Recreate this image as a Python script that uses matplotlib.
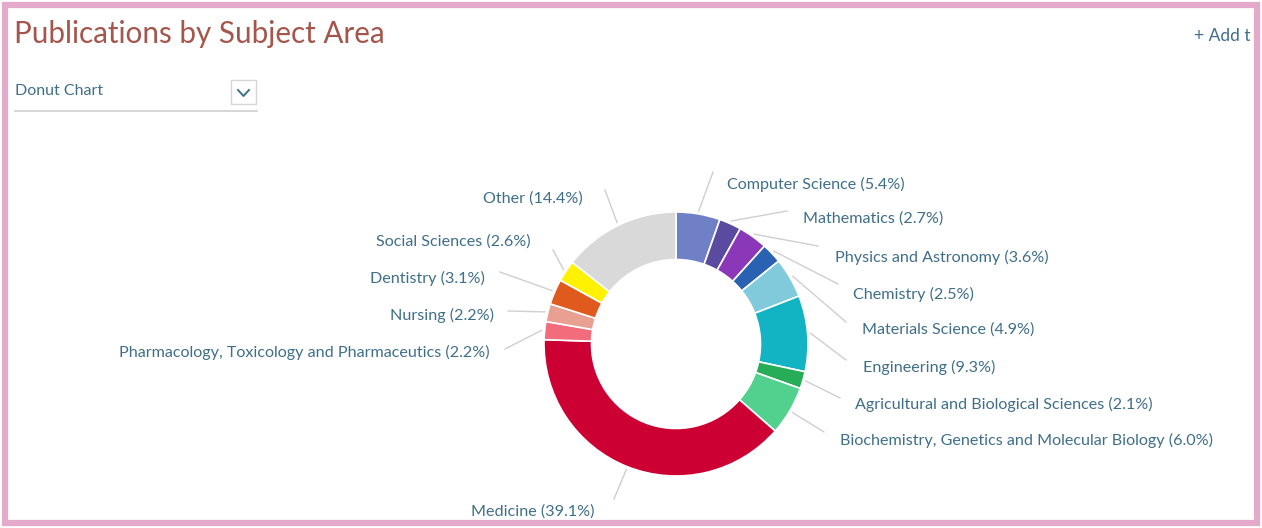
import numpy as np
import matplotlib
matplotlib.use("Agg")
import matplotlib.pyplot as plt
from matplotlib.patches import Rectangle

# ---- data ----
categories = ["Computer Science", "Mathematics", "Physics and Astronomy", "Chemistry",
              "Materials Science", "Engineering", "Agricultural and Biological Sciences",
              "Biochemistry, Genetics and Molecular Biology", "Medicine",
              "Pharmacology, Toxicology and Pharmaceutics", "Nursing", "Dentistry",
              "Social Sciences", "Other"]
shares = [5.4, 2.7, 3.6, 2.5, 4.9, 9.3, 2.1, 6.0, 39.1, 2.2, 2.2, 3.1, 2.6, 14.4]
colors = ["#6f80c6", "#5a4aa0", "#8a38b8", "#2a62b2", "#80cadb", "#12b4c4", "#27ad57",
          "#52d08e", "#cc0033", "#f36c7c", "#e9a092", "#e05a1e", "#fff200", "#d9d9d9"]

# ---- layout (pixel coordinates, y from top) ----
W, H = 1262, 528
cx, cy, R, ring = 676, 344, 132, 0.36
label_pos = [(727, 184, "left"), (803, 219, "left"), (835, 257, "left"), (853, 294, "left"),
             (862, 330, "left"), (863, 367, "left"), (855, 404, "left"), (840, 440, "left"),
             (533, 512, "center"), (490, 352, "right"), (494, 315, "right"), (485, 278, "right"),
             (531, 242, "right"), (583, 199, "right")]
line_end = [(713, 172), (787, 211), (818, 246), (838, 284), (846, 322), (846, 360),
            (840, 398), (824, 432), (614, 499), (505, 349), (508, 311), (500, 272),
            (553, 250), (605, 190)]

LABEL_COLOR = "#3f6f88"
FONT = "Lato"

fig = plt.figure(figsize=(W / 100, H / 100), dpi=100)
fig.patch.set_facecolor("white")
ax = fig.add_axes([0, 0, 1, 1])
ax.set_xlim(0, W)
ax.set_ylim(0, H)
ax.set_aspect("equal")
ax.axis("off")

def Y(y):
    return H - y

# frame
ax.add_patch(Rectangle((5, 5), W - 10, H - 10, fill=False, ec="#e4aacb", lw=4.5, zorder=1))

# title and widgets
ax.text(14, Y(34), "Publications by Subject Area", fontsize=21.3, color="#a4554c",
        family=FONT, va="center", ha="left")
ax.text(1194, Y(36), "+ Add t", fontsize=12.5, color="#3f6f88", family=FONT,
        va="center", ha="left")
ax.text(15, Y(91), "Donut Chart", fontsize=11.5, color="#3f6f88", family=FONT,
        va="center", ha="left")
ax.add_patch(Rectangle((231, Y(104)), 25, 24, fill=False, ec="#d6d6d6", lw=1))
ax.plot([238, 243.5, 249], [Y(90), Y(96), Y(90)], color="#3f6f88", lw=1.4)
ax.plot([15, 257], [Y(111), Y(111)], color="#cfcfcf", lw=1.2)

# donut
wedges, _ = ax.pie(shares, colors=colors, startangle=90, counterclock=False,
                   center=(cx, Y(cy)), radius=R,
                   wedgeprops=dict(width=R * ring, edgecolor="white", linewidth=1.2),
                   frame=True)
ax.set_xlim(0, W)
ax.set_ylim(0, H)
ax.axis("off")

# labels and leader lines
for w, name, val, (lx, ly, ha), (ex, ey) in zip(wedges, categories, shares, label_pos, line_end):
    mid = np.deg2rad((w.theta1 + w.theta2) / 2)
    sx = cx + (R + 3) * np.cos(mid)
    sy = Y(cy) + (R + 3) * np.sin(mid)
    ax.plot([sx, ex], [sy, Y(ey)], color="#cfcfcf", lw=1.0, zorder=0)
    ax.text(lx, Y(ly), f"{name} ({val:.1f}%)", fontsize=11.6, color=LABEL_COLOR,
            family=FONT, ha=ha, va="center")

fig.savefig("out.png", dpi=100, facecolor="white")
